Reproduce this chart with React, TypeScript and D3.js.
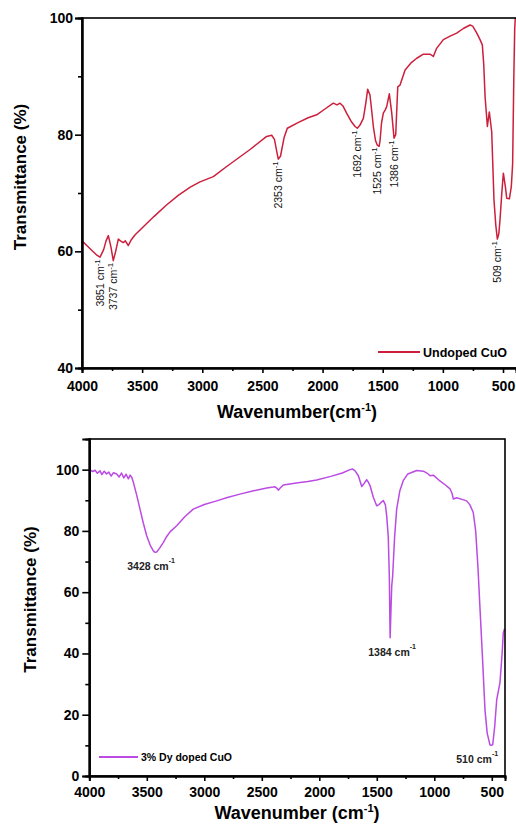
import React, { useEffect, useRef } from 'react';
import * as d3 from 'd3';

// Undoped CuO spectrum (wavenumber cm-1 / transmittance %)
const undopedWave = [4000, 3960, 3920, 3880, 3850, 3820, 3800, 3781, 3760, 3740, 3720, 3698, 3680, 3657, 3640, 3615, 3590, 3560, 3490, 3400, 3300, 3200, 3100, 3019, 2908, 2800, 2700, 2600, 2465, 2423, 2400, 2380, 2368, 2350, 2320, 2293, 2200, 2120, 2049, 1980, 1911, 1880, 1855, 1830, 1800, 1760, 1730, 1711, 1690, 1661, 1640, 1625, 1606, 1590, 1578, 1560, 1545, 1530, 1522, 1510, 1495, 1480, 1467, 1445, 1425, 1406, 1392, 1375, 1356, 1314, 1260, 1217, 1162, 1107, 1079, 1052, 996, 940, 885, 830, 774, 752, 720, 691, 672, 660, 649, 630, 614, 594, 575, 560, 547, 535, 525, 510, 497, 480, 469, 447, 431, 420, 410, 403, 398];
const undopedT = [61.8, 61.0, 60.2, 59.4, 59.0, 60.3, 61.8, 62.7, 60.8, 58.4, 60.0, 62.1, 61.8, 61.5, 61.8, 61.0, 62.0, 62.8, 64.2, 66.0, 67.9, 69.6, 71.0, 71.9, 72.8, 74.5, 76.0, 77.5, 79.7, 79.9, 79.2, 77.0, 75.8, 76.3, 79.5, 81.1, 82.1, 82.9, 83.4, 84.4, 85.4, 85.1, 85.4, 84.9, 83.7, 82.2, 81.4, 81.1, 81.6, 82.8, 85.5, 87.8, 86.8, 83.8, 81.4, 79.0, 78.2, 78.0, 79.0, 82.0, 83.7, 84.2, 84.8, 87.0, 83.7, 79.4, 80.0, 88.2, 88.5, 91.1, 92.4, 93.1, 93.8, 93.8, 93.4, 94.8, 96.3, 96.9, 97.4, 98.2, 98.8, 98.6, 97.5, 96.3, 95.4, 92.0, 86.5, 81.4, 83.9, 80.5, 68.8, 64.5, 62.1, 63.0, 65.4, 70.0, 73.4, 71.0, 69.1, 69.0, 71.1, 75.0, 90.0, 98.0, 100.0];

// 3% Dy doped CuO spectrum
const dopedWave = [4000, 3970, 3950, 3930, 3907, 3890, 3870, 3850, 3830, 3810, 3790, 3762, 3740, 3720, 3700, 3680, 3660, 3645, 3631, 3617, 3590, 3559, 3530, 3501, 3470, 3443, 3428, 3414, 3390, 3357, 3330, 3298, 3240, 3170, 3096, 3000, 2892, 2800, 2690, 2580, 2457, 2400, 2385, 2370, 2356, 2340, 2313, 2200, 2100, 2023, 1900, 1800, 1733, 1710, 1690, 1660, 1631, 1610, 1588, 1575, 1559, 1530, 1501, 1480, 1457, 1443, 1425, 1414, 1400, 1391, 1384, 1376, 1370, 1362, 1345, 1327, 1300, 1270, 1230, 1153, 1095, 1060, 1037, 1008, 960, 900, 863, 845, 834, 805, 760, 718, 690, 661, 640, 620, 602, 580, 559, 540, 516, 505, 492, 475, 457, 429, 410, 400, 390];
const dopedT = [100.0, 99.4, 99.8, 98.8, 99.6, 98.4, 99.5, 98.6, 99.2, 97.9, 99.0, 98.6, 97.6, 98.9, 97.3, 98.5, 97.0, 98.2, 97.5, 95.9, 92.0, 87.1, 82.5, 78.4, 75.3, 73.5, 73.0, 73.1, 74.3, 76.2, 78.0, 79.7, 81.7, 84.6, 87.1, 88.6, 89.8, 90.9, 92.0, 93.0, 94.0, 94.3, 94.4, 94.0, 93.3, 94.0, 95.0, 95.6, 96.1, 96.6, 97.8, 98.9, 100.0, 100.2, 99.7, 98.0, 94.5, 95.5, 96.7, 96.0, 94.8, 91.0, 88.2, 88.6, 89.5, 89.9, 88.5, 84.9, 78.0, 65.3, 45.1, 55.0, 62.0, 65.3, 78.0, 87.1, 93.0, 96.4, 98.6, 99.7, 99.5, 98.8, 98.0, 98.2, 96.6, 94.9, 93.7, 92.2, 90.4, 90.8, 90.3, 89.8, 88.5, 86.0, 80.0, 68.0, 54.4, 38.0, 21.6, 14.0, 10.2, 10.0, 10.2, 16.0, 24.9, 30.4, 40.0, 46.7, 48.0];

const xTickValues = [4000, 3500, 3000, 2500, 2000, 1500, 1000, 500];
const xMinorTicks = [3750, 3250, 2750, 2250, 1750, 1250, 750];
const undopedYTicks = [40, 60, 80, 100];
const undopedYMinor = [50, 70, 90];
const dopedYTicks = [0, 20, 40, 60, 80, 100];
const dopedYMinor = [10, 30, 50, 70, 90];

// peak labels: text, dip wavenumber, dip transmittance
const undopedPeaks = [
  { label: '3851', w: 3850, t: 59.0 },
  { label: '3737', w: 3740, t: 58.4 },
  { label: '2353', w: 2368, t: 75.8 },
  { label: '1692', w: 1711, t: 81.1 },
  { label: '1525', w: 1545, t: 78.2 },
  { label: '1386', w: 1406, t: 79.4 },
  { label: '509', w: 547, t: 62.1 },
];
const dopedPeaks = [
  { label: '3428', w: 3428, t: 73.0 },
  { label: '1384', w: 1384, t: 45.1 },
  { label: '510', w: 505, t: 10.0 },
];
const dopedPeakShift = [-4, 2, -14];

const FONT = 'Liberation Sans, Arial, sans-serif';
const RED = '#cc1f3c';
const VIOLET = '#bb4be3';

const App = () => {
  const svgRef = useRef<SVGSVGElement>(null);

  useEffect(() => {
    const svg = d3.select(svgRef.current);
    svg.selectAll('*').remove();

    const drawPanel = (p: any) => {
      const x = d3.scaleLinear().domain(p.xDomain).range([p.left, p.right]);
      const y = d3.scaleLinear().domain(p.yDomain).range([p.bottom, p.top]);
      const g = svg.append('g');

      const clipId = 'clip-' + p.id;
      g.append('clipPath').attr('id', clipId)
        .append('rect')
        .attr('x', p.left).attr('y', p.top)
        .attr('width', p.right - p.left).attr('height', p.bottom - p.top);

      const pts = p.waves.map((w: number, i: number) => [w, p.values[i]]);
      const line = d3.line<number[]>().x(d => x(d[0])).y(d => y(d[1]));
      g.append('path')
        .attr('clip-path', `url(#${clipId})`)
        .attr('d', line(pts))
        .attr('fill', 'none')
        .attr('stroke', p.color)
        .attr('stroke-width', 1.5)
        .attr('stroke-linejoin', 'round');

      // frame
      g.append('rect')
        .attr('x', p.left).attr('y', p.top)
        .attr('width', p.frameRight - p.left).attr('height', p.bottom - p.top)
        .attr('fill', 'none').attr('stroke', '#000').attr('stroke-width', 1.6);

      // x axis
      const xa = g.append('g').attr('transform', `translate(0,${p.bottom})`)
        .call(d3.axisBottom(x).tickValues(xTickValues).tickSize(5).tickPadding(p.xPad).tickFormat(d3.format('d')));
      xa.append('g').call(d3.axisBottom(x).tickValues(xMinorTicks).tickSize(3).tickFormat(() => ''));
      xa.selectAll('.domain').attr('stroke-width', 2);
      xa.selectAll('line').attr('stroke-width', 1.6);
      xa.selectAll('text').attr('font-family', FONT).attr('font-size', 14).attr('font-weight', 'bold').attr('fill', '#000');

      // y axis
      const ya = g.append('g').attr('transform', `translate(${p.left},0)`)
        .call(d3.axisLeft(y).tickValues(p.yTicks).tickSize(7).tickPadding(p.yPad).tickFormat(d3.format('d')));
      ya.append('g').call(d3.axisLeft(y).tickValues(p.yMinor).tickSize(4).tickFormat(() => ''));
      ya.selectAll('.domain').attr('stroke-width', 2);
      ya.selectAll('line').attr('stroke-width', 1.6);
      ya.selectAll('text').attr('font-family', FONT).attr('font-size', 14).attr('font-weight', 'bold').attr('fill', '#000');

      // axis titles
      g.append('text')
        .attr('transform', `translate(${p.yTitleX},${(p.top + p.bottom) / 2 + p.yTitleShift}) rotate(-90)`)
        .attr('text-anchor', 'middle')
        .attr('font-family', FONT).attr('font-size', 17).attr('font-weight', 'bold')
        .text('Transmittance (%)');

      const xt = g.append('text')
        .attr('x', p.xTitleX).attr('y', p.xTitleY)
        .attr('text-anchor', 'middle')
        .attr('font-family', FONT).attr('font-size', 18).attr('font-weight', 'bold');
      xt.append('tspan').text(p.xTitle);
      xt.append('tspan').attr('dy', -7).attr('font-size', 11).text('-1');
      xt.append('tspan').attr('dy', 7).text(')');

      // legend
      g.append('line')
        .attr('x1', p.legend.x1).attr('x2', p.legend.x2)
        .attr('y1', p.legend.y).attr('y2', p.legend.y)
        .attr('stroke', p.color).attr('stroke-width', 1.8);
      g.append('text')
        .attr('x', p.legend.x2 + 3).attr('y', p.legend.y + p.legend.size * 0.36)
        .attr('font-family', FONT).attr('font-size', p.legend.size).attr('font-weight', 'bold')
        .text(p.legend.label);

      return { x, y, g };
    };

    const top = drawPanel({
      id: 'top', left: 82, right: 516, frameRight: 520, top: 18, bottom: 368,
      xDomain: [4000, 392], yDomain: [40, 100],
      waves: undopedWave, values: undopedT, color: RED,
      yTicks: undopedYTicks, yMinor: undopedYMinor,
      xPad: 8, yPad: 2,
      yTitleX: 26, yTitleShift: -16,
      xTitle: 'Wavenumber(cm', xTitleX: 297, xTitleY: 418,
      legend: { x1: 378, x2: 420, y: 352, size: 12.5, label: 'Undoped CuO' },
    });

    undopedPeaks.forEach(pk => {
      const t = top.g.append('text')
        .attr('transform', `translate(${top.x(pk.w) + 4},${top.y(pk.t) + 2}) rotate(-90)`)
        .attr('text-anchor', 'end')
        .attr('font-family', FONT).attr('font-size', 10.5).attr('fill', '#111');
      t.append('tspan').text(`${pk.label} cm`);
      t.append('tspan').attr('dy', -4).attr('font-size', 8).text('-1');
    });

    const bottom = drawPanel({
      id: 'bottom', left: 89.3, right: 505, frameRight: 505, top: 439, bottom: 776,
      xDomain: [4000, 385], yDomain: [0, 110],
      waves: dopedWave, values: dopedT, color: VIOLET,
      yTicks: dopedYTicks, yMinor: dopedYMinor,
      xPad: 6, yPad: 3,
      yTitleX: 36, yTitleShift: -8,
      xTitle: 'Wavenumber (cm', xTitleX: 297, xTitleY: 819,
      legend: { x1: 99, x2: 138, y: 757, size: 10.5, label: '3% Dy doped CuO' },
    });

    dopedPeaks.forEach((pk, i) => {
      const t = bottom.g.append('text')
        .attr('x', bottom.x(pk.w) + dopedPeakShift[i]).attr('y', bottom.y(pk.t) + 18)
        .attr('text-anchor', 'middle')
        .attr('font-family', FONT).attr('font-size', 10.5).attr('font-weight', 'bold').attr('fill', '#222');
      t.append('tspan').text(`${pk.label} cm`);
      t.append('tspan').attr('dy', -7).attr('font-size', 7).text('-1');
    });
  }, []);

  return (
    <svg ref={svgRef} width={516} height={825} viewBox="0 0 516 825"
      style={{ position: 'absolute', left: 0, top: 0, background: 'white', display: 'block' }} />
  );
};

export default App;
